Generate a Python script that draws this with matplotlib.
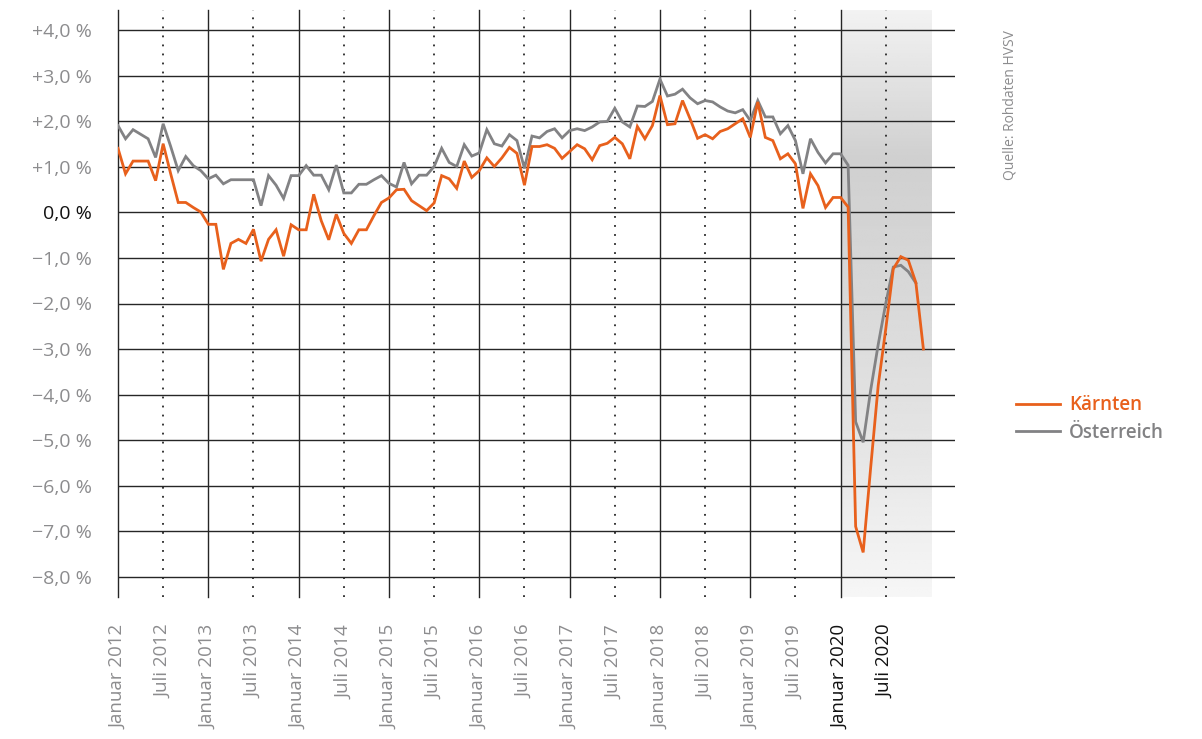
import matplotlib
matplotlib.use("Agg")
import matplotlib.pyplot as plt
import numpy as np

plt.rcParams['font.family'] = ['Open Sans', 'DejaVu Sans']

# monthly change vs. previous year, Jan 2012 .. Dec 2020
kaernten = [
    1.41, 0.85, 1.13, 1.13, 1.13, 0.70, 1.51, 0.85, 0.22, 0.22, 0.11, 0.01,
    -0.26, -0.26, -1.25, -0.68, -0.59, -0.68, -0.37, -1.07, -0.59, -0.38, -0.96, -0.27,
    -0.38, -0.38, 0.40, -0.18, -0.60, -0.04, -0.46, -0.68, -0.38, -0.38, -0.07, 0.22,
    0.32, 0.50, 0.51, 0.26, 0.15, 0.04, 0.21, 0.81, 0.74, 0.53, 1.13, 0.77,
    0.92, 1.20, 1.01, 1.20, 1.43, 1.30, 0.60, 1.45, 1.45, 1.49, 1.41, 1.19,
    1.34, 1.49, 1.40, 1.16, 1.47, 1.52, 1.65, 1.51, 1.18, 1.89, 1.62, 1.91,
    2.57, 1.93, 1.95, 2.46, 2.06, 1.63, 1.71, 1.62, 1.78, 1.84, 1.95, 2.06,
    1.65, 2.43, 1.65, 1.58, 1.18, 1.29, 1.07, 0.09, 0.85, 0.59, 0.11, 0.33,
    0.33, 0.12, -6.90, -7.47, -5.60, -3.80, -2.56, -1.24, -0.97, -1.05, -1.54, -3.00,
]
oesterreich = [
    1.91, 1.62, 1.82, 1.72, 1.62, 1.21, 1.95, 1.45, 0.92, 1.23, 1.03, 0.92,
    0.74, 0.82, 0.63, 0.72, 0.72, 0.72, 0.72, 0.15, 0.81, 0.60, 0.31, 0.81,
    0.81, 1.03, 0.82, 0.82, 0.50, 1.04, 0.43, 0.43, 0.62, 0.62, 0.72, 0.81,
    0.64, 0.56, 1.10, 0.63, 0.82, 0.82, 1.01, 1.41, 1.10, 1.01, 1.49, 1.24,
    1.31, 1.82, 1.51, 1.46, 1.71, 1.58, 0.97, 1.68, 1.64, 1.78, 1.84, 1.64,
    1.80, 1.84, 1.80, 1.88, 1.99, 2.00, 2.29, 1.99, 1.88, 2.34, 2.33, 2.44,
    2.93, 2.56, 2.60, 2.71, 2.52, 2.39, 2.46, 2.43, 2.32, 2.23, 2.19, 2.26,
    2.02, 2.46, 2.10, 2.10, 1.73, 1.91, 1.58, 0.85, 1.62, 1.32, 1.09, 1.29,
    1.29, 1.04, -4.60, -5.05, -3.90, -2.90, -2.00, -1.20, -1.16, -1.30, -1.55,
]
years = list(range(2012, 2021))
y_ticks = list(range(-8, 5))

ORANGE = '#e8601c'
GREY = '#828284'
LABEL_GREY = '#8c8c8e'
GRID = '#262626'

fig = plt.figure(figsize=(12.02, 7.39), dpi=100)
ax = fig.add_axes([118 / 1202, 1 - 597 / 739, (955 - 118) / 1202, (597 - 10) / 739])
ax.set_xlim(0, 111.2)
ax.set_ylim(-8.45, 4.45)
for s in ax.spines.values():
    s.set_visible(False)

# shaded 2020 period, vertical gradient (darkest in the upper third)
prof = np.interp(np.linspace(0, 1, 200), [0, 0.25, 0.5, 0.75, 1],
                 [0.95, 0.815, 0.85, 0.9, 0.965])
ax.imshow(prof[:, None], cmap='gray', vmin=0, vmax=1, aspect='auto',
          extent=[96, 108, -8.45, 4.45], zorder=0, interpolation='bilinear')

for v in y_ticks:
    ax.axhline(v, color=GRID, lw=1.0, zorder=1)
for i, yr in enumerate(years):
    ax.axvline(i * 12, color=GRID, lw=1.0, zorder=1, clip_on=False)
    ax.axvline(i * 12 + 6, color=GRID, lw=1.3, ls=(0, (1, 4)), zorder=1)

ax.plot(range(len(oesterreich)), oesterreich, color=GREY, lw=2.0, label='Österreich', zorder=3,
        solid_joinstyle='miter')
ax.plot(range(len(kaernten)), kaernten, color=ORANGE, lw=2.0, label='Kärnten', zorder=4,
        solid_joinstyle='miter')

def fmt(v):
    if v == 0:
        return '0,0 %'
    return ('+' if v > 0 else '\u2212') + f'{abs(v):.1f}'.replace('.', ',') + ' %'

ax.set_yticks(y_ticks)
ax.set_yticklabels([fmt(v) for v in y_ticks], fontsize=14)
for lab, v in zip(ax.get_yticklabels(), y_ticks):
    lab.set_color('#111111' if v == 0 else LABEL_GREY)

xt, xl = [], []
for i, yr in enumerate(years):
    xt += [i * 12, i * 12 + 6]
    xl += [f'Januar {yr}', f'Juli {yr}']
ax.set_xticks(xt)
ax.set_xticklabels(xl, rotation=90, fontsize=13.5, va='top', ha='center')
for lab, t in zip(ax.get_xticklabels(), xt):
    lab.set_color('#111111' if t >= 96 else LABEL_GREY)

ax.tick_params(axis='y', length=0, pad=19)
ax.tick_params(axis='x', length=0, pad=20)

handles, labels = ax.get_legend_handles_labels()
fig.legend(handles[::-1], labels[::-1], loc='upper left', bbox_to_anchor=(1007 / 1202, 1 - 386 / 739),
           frameon=False, borderpad=0, handlelength=2.3, handletextpad=0.5, labelspacing=0.4,
           labelcolor='linecolor', prop={'size': 13.5, 'weight': 'semibold'})

fig.text(1010 / 1202, 1 - 30 / 739, 'Quelle: Rohdaten HVSV', rotation=90, va='top', ha='center',
         color=LABEL_GREY, fontsize=10)

fig.savefig('out.png', dpi=100)
